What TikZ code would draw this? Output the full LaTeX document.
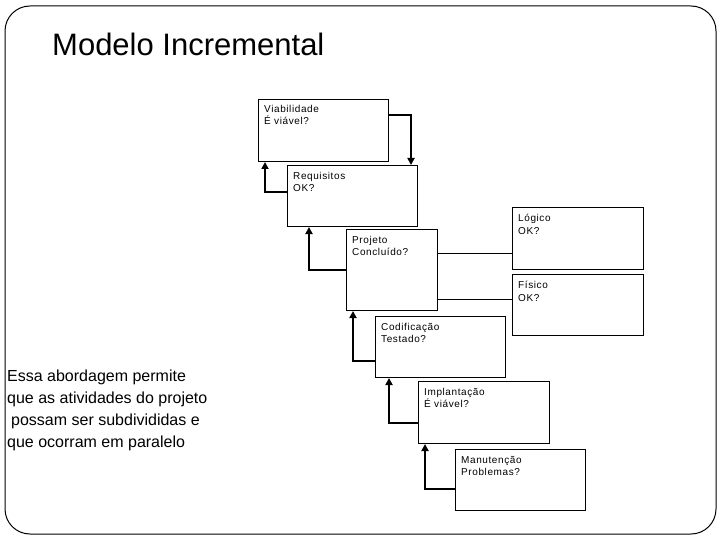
\documentclass[tikz,border=0pt]{standalone}
\usepackage{fontspec}
\setmainfont{Liberation Sans}
\newfontfamily\boxfont[LetterSpace=6]{Liberation Sans}
\usetikzlibrary{arrows.meta}
\begin{document}
\begin{tikzpicture}[x=1pt,y=-1pt,
  box/.style={draw=black, line width=1pt, fill=white, rectangle, inner sep=0pt, anchor=north west, minimum width=#1},
  box/.default=130,
  btxt/.style={anchor=north west, inner sep=0pt, font=\boxfont\fontsize{10}{12.5}\selectfont, align=left},
  arr/.style={line width=2pt, -{Triangle[length=7pt,width=7pt]}},
  link/.style={line width=1pt},
  body/.style={anchor=base west, inner sep=0pt, font=\fontsize{16}{20}\selectfont}]
\useasboundingbox (0,0) rectangle (720,540);
\draw[line width=1pt, rounded corners=25pt] (5,6) rectangle (716,534);
\node[anchor=base west, inner sep=0pt, font=\fontsize{31}{36}\selectfont] (title) at (52,56) {Modelo Incremental};
% boxes
\node[box, minimum height=62] (viab) at (258,99) {};
\node[box, minimum height=61] (req) at (287,165) {};
\node[box, minimum height=62, minimum width=131] (log) at (512,207) {};
\node[box=91, minimum height=81] (proj) at (346,229) {};
\node[box, minimum height=61, minimum width=131] (fis) at (512,274) {};
\node[box, minimum height=61] (cod) at (375,316) {};
\node[box, minimum height=62, minimum width=131] (impl) at (418,381) {};
\node[box, minimum height=61] (man) at (455,449) {};
% texts
\node[btxt] (viabt) at ([xshift=6pt,yshift=-6pt]viab.north west) {Viabilidade\\É viável?};
\node[btxt] (reqt) at ([xshift=6pt,yshift=-7pt]req.north west) {Requisitos\\OK?};
\node[btxt] (logt) at ([xshift=6pt,yshift=-7pt]log.north west) {Lógico\\OK?};
\node[btxt] (projt) at ([xshift=6pt,yshift=-7pt]proj.north west) {Projeto\\Concluído?};
\node[btxt] (fist) at ([xshift=6pt,yshift=-7pt]fis.north west) {Físico\\OK?};
\node[btxt] (codt) at ([xshift=6pt,yshift=-7pt]cod.north west) {Codificação\\Testado?};
\node[btxt] (implt) at ([xshift=6pt,yshift=-7pt]impl.north west) {Implantação\\É viável?};
\node[btxt] (mant) at ([xshift=6pt,yshift=-7pt]man.north west) {Manutenção\\Problemas?};
% connectors
\draw[arr] ([yshift=-16pt]viab.north east) -| ([xshift=-7pt]req.north east);
\draw[arr] ([yshift=-27pt]req.north west) -| ([xshift=7pt]viab.south west);
\draw[arr] ([yshift=-41pt]proj.north west) -| ([xshift=22pt]req.south west);
\draw[arr] ([yshift=-45pt]cod.north west) -| ([xshift=7pt]proj.south west);
\draw[arr] ([yshift=-42pt]impl.north west) -| ([xshift=14pt]cod.south west);
\draw[arr] ([yshift=-40pt]man.north west) -| ([xshift=7pt]impl.south west);
\coordinate (p1) at ([yshift=-24pt]proj.north east);
\coordinate (p2) at ([yshift=-70pt]proj.north east);
\draw[link] (p1) -- (p1 -| log.west);
\draw[link] (p2) -- (p2 -| fis.west);
% left text
\node[body] (l1) at (7,381) {Essa abordagem permite};
\node[body] (l2) at (7,403) {que as atividades do projeto};
\node[body] (l3) at (11,425) {possam ser subdivididas e};
\node[body] (l4) at (7,447) {que ocorram em paralelo};
\end{tikzpicture}
\end{document}
